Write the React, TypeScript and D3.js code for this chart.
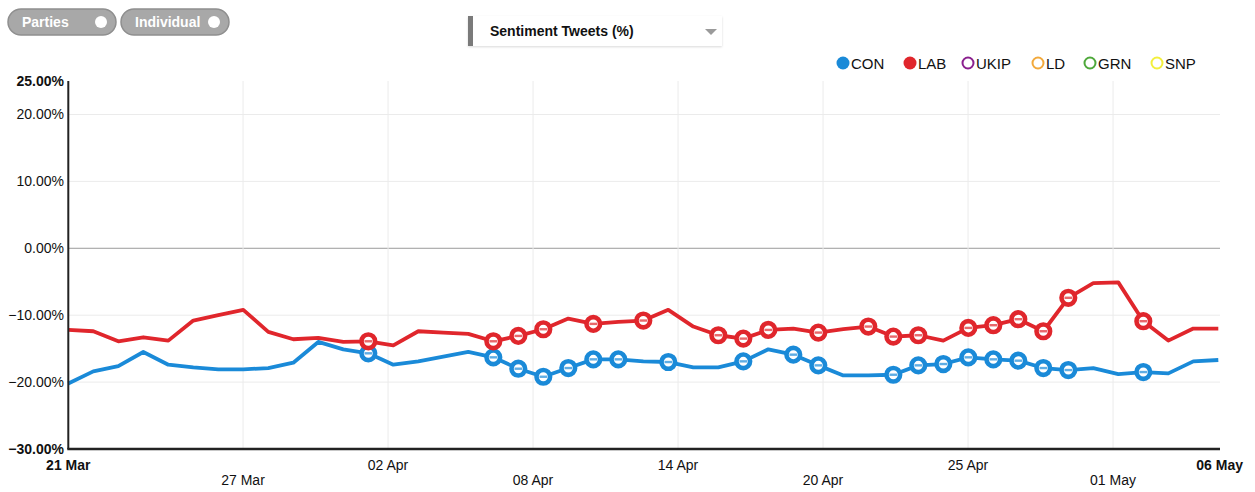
import React from "react";
import * as d3 from "d3";

// days since 21 Mar 2015 (0..46)
const conValues = [
  -20.2, -18.4, -17.6, -15.5, -17.4, -17.8, -18.1, -18.1, -17.9, -17.1,
  -14.0, -15.1, -15.7, -17.4, -16.9, -16.2, -15.5, -16.3, -18.0, -19.2,
  -17.9, -16.6, -16.6, -16.9, -17.0, -17.8, -17.8, -16.9, -15.1, -15.9,
  -17.5, -19.0, -19.0, -18.9, -17.5, -17.3, -16.3, -16.6, -16.8, -17.9,
  -18.2, -17.9, -18.8, -18.5, -18.7, -16.9, -16.7,
];
const labValues = [
  -12.2, -12.4, -13.9, -13.3, -13.8, -10.8, -10.0, -9.2, -12.5, -13.6,
  -13.4, -14.0, -13.9, -14.5, -12.4, -12.6, -12.8, -13.9, -13.1, -12.1,
  -10.5, -11.3, -11.0, -10.8, -9.2, -11.7, -13.0, -13.5, -12.2, -12.0,
  -12.6, -12.1, -11.7, -13.2, -13.0, -13.8, -11.9, -11.5, -10.6, -12.4,
  -7.4, -5.2, -5.1, -10.9, -13.8, -12.0, -12.0,
];
const conMarkers = [12, 17, 18, 19, 20, 21, 22, 24, 27, 29, 30, 33, 34, 35, 36, 37, 38, 39, 40, 43];
const labMarkers = [12, 17, 18, 19, 21, 23, 26, 27, 28, 30, 32, 33, 34, 36, 37, 38, 39, 40, 43];

const yTicks = [25, 20, 10, 0, -10, -20, -30];
const yBold = [25, -30];
const xTickLabels = ["27 Mar", "02 Apr", "08 Apr", "14 Apr", "20 Apr", "25 Apr", "01 May"];
const xTickDays = [6.99, 12.79, 18.59, 24.39, 30.19, 35.99, 41.79];
const xEndLabels = ["21 Mar", "06 May"];

const legendNames = ["CON", "LAB", "UKIP", "LD", "GRN", "SNP"];
const legendColors = ["#1a8ad8", "#e0262c", "#8a1f8e", "#f2a93b", "#4ea83a", "#f3ef3c"];
const legendFilled = [true, true, false, false, false, false];
const legendX = [843, 910, 968, 1038, 1090, 1157];

const FONT = "'Liberation Sans', Arial, Helvetica, sans-serif";

export default function App() {
  const left = 68.3, right = 1218.3, top = 81, bottom = 449;
  const x = d3.scaleLinear().domain([0, 46]).range([left, right]);
  const y = d3.scaleLinear().domain([-30, 25]).range([bottom, top]);
  const line = d3.line<number>().x((_, i) => x(i)).y((v) => y(v));

  const series = [
    { values: conValues, markers: conMarkers, color: legendColors[0] },
    { values: labValues, markers: labMarkers, color: legendColors[1] },
  ];

  return (
    <svg width={1255} height={492} style={{ position: "absolute", left: 0, top: 0, background: "#fff" }} fontFamily={FONT}>
      {/* buttons */}
      {["Parties", "Individual"].map((t, i) => {
        const bx = 8 + i * 113;
        return (
          <g key={t}>
            <rect x={bx} y={9} width={108} height={26} rx={13} fill="#a8a8a8" stroke="#8f8f8f" strokeWidth={1.5} />
            <text x={bx + 14} y={27} fontSize={14} fontWeight="bold" fill="#fff">{t}</text>
            <circle cx={bx + 93} cy={22} r={6} fill="#fff" />
          </g>
        );
      })}
      {/* dropdown */}
      <defs>
        <filter id="sh" x="-5%" y="-20%" width="110%" height="150%">
          <feDropShadow dx="0" dy="1" stdDeviation="1.2" floodColor="#000" floodOpacity="0.15" />
        </filter>
      </defs>
      <rect x={468} y={16} width={254} height={30} fill="#fff" filter="url(#sh)" />
      <rect x={468} y={16} width={5} height={30} fill="#7a7a7a" />
      <text x={490} y={36} fontSize={14} fontWeight="bold" fill="#111">Sentiment Tweets (%)</text>
      <path d="M705,29 L717,29 L711,35 Z" fill="#9a9a9a" />
      {/* legend */}
      {legendNames.map((n, i) => (
        <g key={n}>
          <circle cx={legendX[i]} cy={63} r={legendFilled[i] ? 6.5 : 5.5} fill={legendFilled[i] ? legendColors[i] : "#fff"}
            stroke={legendColors[i]} strokeWidth={legendFilled[i] ? 0 : 2} />
          <text x={legendX[i] + 8} y={68.5} fontSize={15} fill="#111">{n}</text>
        </g>
      ))}
      {/* grid */}
      {yTicks.filter((t) => t !== 25 && t !== -30).map((t) => (
        <line key={t} x1={left} x2={1220} y1={y(t)} y2={y(t)} stroke={t === 0 ? "#9a9a9a" : "#ebebeb"} strokeWidth={1} />
      ))}
      {xTickDays.map((d) => (
        <line key={d} x1={x(d)} x2={x(d)} y1={top} y2={bottom} stroke="#ebebeb" strokeWidth={1} />
      ))}
      {/* y labels */}
      {yTicks.map((t) => (
        <text key={t} x={64} y={y(t) + 5} textAnchor="end" fontSize={14} fill="#111"
          fontWeight={yBold.includes(t) ? "bold" : "normal"}>{d3.format(".2f")(t)}%</text>
      ))}
      {/* x labels */}
      {xTickLabels.map((l, i) => (
        <text key={l} x={x(xTickDays[i])} y={i % 2 === 0 ? 485 : 470} textAnchor="middle" fontSize={14} fill="#111">{l}</text>
      ))}
      <text x={x(0)} y={470} textAnchor="middle" fontSize={14} fontWeight="bold" fill="#111">{xEndLabels[0]}</text>
      <text x={1243} y={470} textAnchor="end" fontSize={14} fontWeight="bold" fill="#111">{xEndLabels[1]}</text>
      {/* lines */}
      {series.map((s, si) => (
        <g key={si}>
          <path d={line(s.values) || ""} fill="none" stroke={s.color} strokeWidth={3.8} strokeLinejoin="round" />
          {s.markers.map((m) => (
            <g key={m} transform={`translate(${x(m)},${y(s.values[m])})`}>
              <circle r={6.8} fill="#fff" stroke={s.color} strokeWidth={4.6} />
              <line x1={-3.8} x2={3.8} y1={0} y2={0} stroke={s.color} strokeOpacity={0.7} strokeWidth={2.4} />
            </g>
          ))}
        </g>
      ))}
      {/* axes */}
      <line x1={left} x2={left} y1={top} y2={bottom} stroke="#222" strokeWidth={2} />
      <line x1={left - 1} x2={1220} y1={bottom} y2={bottom} stroke="#222" strokeWidth={2.5} />
    </svg>
  );
}
